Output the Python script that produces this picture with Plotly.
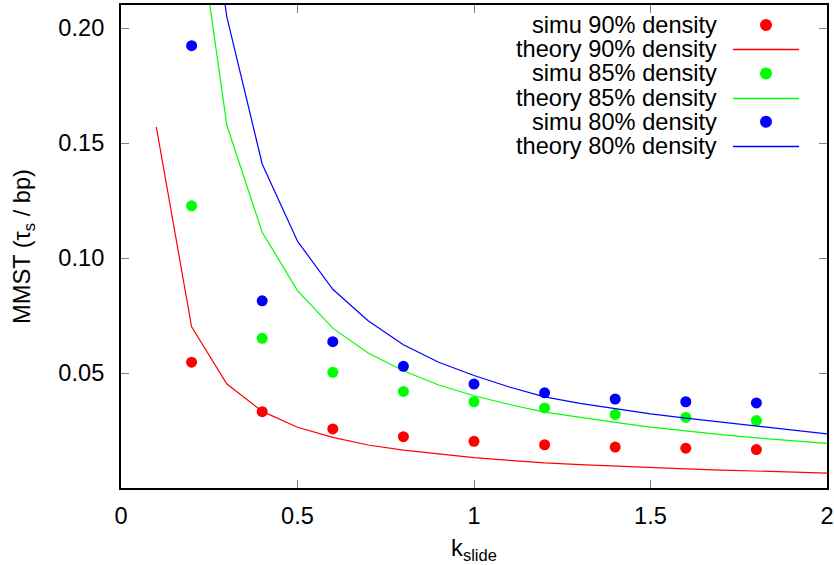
import plotly.graph_objects as go

# ---- data ----
k_theory_red = [0.1, 0.2, 0.3, 0.4, 0.5, 0.6, 0.7, 0.8, 0.9, 1.0,
                1.1, 1.2, 1.3, 1.4, 1.5, 1.6, 1.7, 1.8, 1.9, 2.0]
theory_90 = [0.157, 0.0701, 0.0452, 0.0333, 0.0264, 0.0220, 0.0187, 0.0165, 0.0148, 0.0132,
             0.0120, 0.0109, 0.0102, 0.0095, 0.0088, 0.0083, 0.0078, 0.0074, 0.0069, 0.0065]

k_theory = [0.2, 0.3, 0.4, 0.5, 0.6, 0.7, 0.8, 0.9, 1.0,
            1.1, 1.2, 1.3, 1.4, 1.5, 1.6, 1.7, 1.8, 1.9, 2.0]
theory_85 = [0.266, 0.1576, 0.1112, 0.0858, 0.0695, 0.0587, 0.0510, 0.0448, 0.0401,
             0.0363, 0.0330, 0.0306, 0.0285, 0.0265, 0.0247, 0.0232, 0.0218, 0.0205, 0.0194]
theory_80 = [0.310, 0.2047, 0.1409, 0.1073, 0.0864, 0.0727, 0.0623, 0.0547, 0.0489,
             0.0439, 0.0396, 0.0368, 0.0345, 0.0322, 0.0304, 0.0286, 0.0268, 0.0251, 0.0235]

k_simu = [0.2, 0.4, 0.6, 0.8, 1.0, 1.2, 1.4, 1.6, 1.8]
simu_90 = [0.0547, 0.0332, 0.0257, 0.0223, 0.0203, 0.0188, 0.0178, 0.0173, 0.0167]
simu_85 = [0.1227, 0.0651, 0.0503, 0.0420, 0.0375, 0.0348, 0.0320, 0.0307, 0.0293]
simu_80 = [0.1923, 0.0814, 0.0636, 0.0529, 0.0452, 0.0414, 0.0387, 0.0375, 0.0370]

x_ticks = [0, 0.5, 1, 1.5, 2]
x_tick_labels = ["0", "0.5", "1", "1.5", "2"]
y_ticks = [0.05, 0.10, 0.15, 0.20]
y_tick_labels = ["0.05", "0.10", "0.15", "0.20"]

legend_labels = ["simu 90% density", "theory 90% density",
                 "simu 85% density", "theory 85% density",
                 "simu 80% density", "theory 80% density"]

RED, GREEN, BLUE = "#ff0000", "#00ff00", "#0000ff"
FONT = "Liberation Sans, Arial, Helvetica, sans-serif"
FS = 23.6

fig = go.Figure()
series = [
    ("simu", k_simu, simu_90, RED),
    ("line", k_theory_red, theory_90, RED),
    ("simu", k_simu, simu_85, GREEN),
    ("line", k_theory, theory_85, GREEN),
    ("simu", k_simu, simu_80, BLUE),
    ("line", k_theory, theory_80, BLUE),
]
for (kind, xs, ys, col), name in zip(series, legend_labels):
    if kind == "simu":
        fig.add_trace(go.Scatter(x=xs, y=ys, mode="markers", name=name,
                                 marker=dict(color=col, size=11, line=dict(width=0)),
                                 showlegend=False))
    else:
        fig.add_trace(go.Scatter(x=xs, y=ys, mode="lines", name=name,
                                 line=dict(color=col, width=1.2),
                                 showlegend=False))

# manual gnuplot-style legend (text right-aligned, sample on the right)
L, R, T, B = 121, 827, 5, 488
W, H = R - L, B - T
def px(xp):
    return (xp - L) / W
def py(yp):
    return (B - yp) / H

y0, dy = 25.0, 24.2
text_right = 719
mark_x = 766
line_x0, line_x1 = 733, 799
for i, ((kind, xs, ys, col), name) in enumerate(zip(series, legend_labels)):
    yc = y0 + i * dy
    fig.add_annotation(x=px(text_right), y=py(yc), xref="paper", yref="paper",
                       text=name, showarrow=False, xanchor="right", yanchor="middle",
                       font=dict(family=FONT, size=FS, color="black"))
    if kind == "simu":
        fig.add_shape(type="circle", xref="paper", yref="paper",
                      xsizemode="pixel", ysizemode="pixel",
                      xanchor=px(mark_x), yanchor=py(yc),
                      x0=-6, x1=6, y0=-6, y1=6,
                      fillcolor=col, line=dict(width=0))
    else:
        ys_ = py(round(yc) + 0.5)
        fig.add_shape(type="line", xref="paper", yref="paper",
                      x0=px(line_x0), x1=px(line_x1), y0=ys_, y1=ys_,
                      line=dict(color=col, width=1.5))

axis_common = dict(showline=True, linecolor="black", linewidth=2, mirror="allticks",
                   ticks="inside", ticklen=8, tickwidth=1, tickcolor="#808080",
                   showgrid=False, zeroline=False, automargin=False,
                   tickfont=dict(family=FONT, size=FS, color="black"))

fig.update_xaxes(range=[0, 2], tickvals=x_ticks, ticktext=x_tick_labels,
                 ticklabelstandoff=6,
                 title=dict(text="k<sub>slide</sub>", standoff=14,
                            font=dict(family=FONT, size=FS, color="black")),
                 **axis_common)
fig.update_yaxes(range=[0, 0.21], tickvals=y_ticks, ticktext=y_tick_labels,
                 ticklabelstandoff=10,
                 title=dict(text="MMST (τ<sub>s</sub> / bp)", standoff=21,
                            font=dict(family=FONT, size=FS, color="black")),
                 **axis_common)

fig.update_layout(width=834, height=565,
                  margin=dict(l=L, r=834 - R, t=T, b=565 - B),
                  paper_bgcolor="white", plot_bgcolor="white",
                  showlegend=False)

fig.write_html("out.html",
               config={"displayModeBar": False, "staticPlot": True},
               post_script="document.body.style.margin='0';document.body.style.overflow='hidden';")
